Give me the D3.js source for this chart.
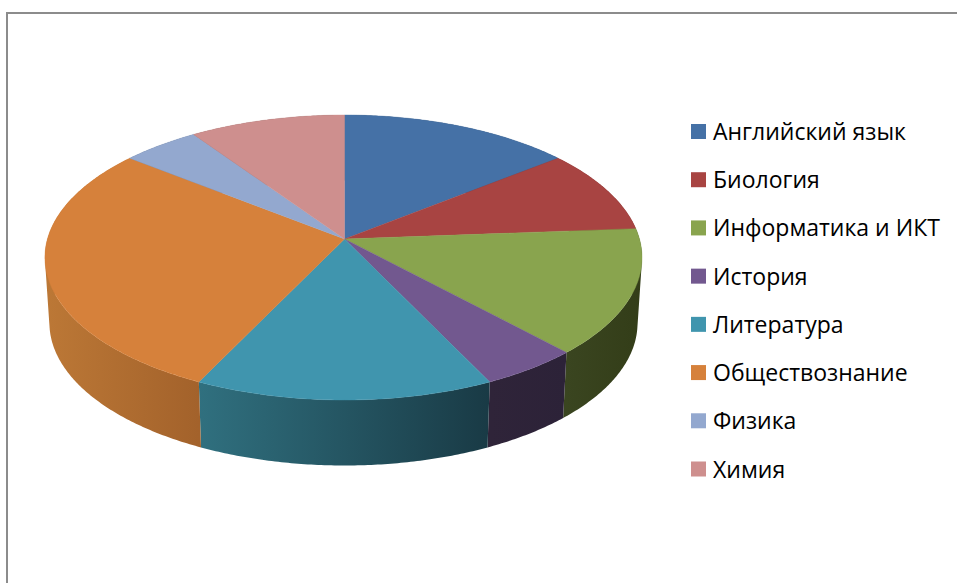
<!DOCTYPE html>
<html>
<head>
<meta charset="utf-8">
<script src="https://cdn.jsdelivr.net/npm/d3@7/dist/d3.min.js"></script>
<style>
  html, body { margin: 0; padding: 0; background: #fff; }
  svg { display: block; }
  .legend-label { font-family: "Open Sans", "Noto Sans", sans-serif; font-size: 23px; fill: #000; }
</style>
</head>
<body>
<div id="chart"></div>
<script>
// Data
var subjects = ["Английский язык", "Биология", "Информатика и ИКТ", "История", "Литература", "Обществознание", "Физика", "Химия"];
var counts = [3, 2, 3, 1, 3, 6, 1, 2];

// Slice colours, top face and the two ends of the side gradient
var topColors = ["#4571a6", "#a84442", "#89a44e", "#72588f", "#4095ae", "#d6813b", "#93a8cf", "#ce8f8e"];
var sideLeft = ["#2a4464", "#652928", "#3a4520", "#2f2439", "#30707f", "#bc7836", "#58657c", "#7c5655"];
var sideRight = ["#2a4464", "#652928", "#333d18", "#2c2238", "#193a45", "#a3622b", "#58657c", "#7c5655"];

var width = 957;
var height = 583;

var svg = d3.select("#chart")
    .append("svg")
    .attr("width", width)
    .attr("height", height);

// Grey frame, only the top and left edges are in the picture
svg.append("path")
    .attr("d", "M7,583V13H957")
    .attr("fill", "none")
    .attr("stroke", "#8c8c8c")
    .attr("stroke-width", 2);

// Pie geometry: a circle seen in perspective
var apexX = 344.5;
var apexY = 239;
var radiusX = 296;
var radiusY = 140.1;
var perspective = -0.1298;
var sidewaysLean = 0.0035;
var depth = 65.5;
var bottomScale = 0.985;

function rimPoint(angle, isBottom) {
    var u = Math.sin(angle);
    var v = -Math.cos(angle);
    var w = 1 + perspective * v;
    var scale = isBottom ? bottomScale : 1;
    return [
        apexX + scale * radiusX * u / (w * (1 + sidewaysLean * u)),
        apexY + radiusY * v / w + (isBottom ? depth : 0)
    ];
}

function rimPoints(a0, a1, isBottom) {
    var steps = Math.max(2, Math.ceil((a1 - a0) / 0.01));
    return d3.range(steps + 1).map(function(i) {
        return rimPoint(a0 + (a1 - a0) * i / steps, isBottom);
    });
}

var pie = d3.pie().sort(null).value(function(d) { return d; });
var slices = pie(counts);
var line = d3.line();
var defs = svg.append("defs");

// Side gradients run along x across each slice
slices.forEach(function(d, i) {
    var xs = rimPoints(d.startAngle, d.endAngle, false).map(function(p) { return p[0]; });
    var grad = defs.append("linearGradient")
        .attr("id", "side" + i)
        .attr("gradientUnits", "userSpaceOnUse")
        .attr("x1", d3.min(xs))
        .attr("x2", d3.max(xs))
        .attr("y1", 0)
        .attr("y2", 0);
    grad.append("stop").attr("offset", 0).attr("stop-color", sideLeft[i]);
    grad.append("stop").attr("offset", 1).attr("stop-color", sideRight[i]);
});

// Sides first, the top faces cover whatever lies behind.
// Each side is many small quads so the outline joins the two rims at the far left and right.
// All quads get the same winding, otherwise the overlaps near the far edges cancel out.
svg.append("g")
    .selectAll("path")
    .data(slices)
    .join("path")
    .attr("d", function(d) {
        var top = rimPoints(d.startAngle, d.endAngle, false);
        var bottom = rimPoints(d.startAngle, d.endAngle, true);
        return d3.range(top.length - 1).map(function(j) {
            var quad = [top[j], top[j + 1], bottom[j + 1], bottom[j]];
            if (d3.polygonArea(quad) < 0) quad.reverse();
            return line(quad) + "Z";
        }).join("");
    })
    .attr("fill", function(d, i) { return "url(#side" + i + ")"; });

svg.append("g")
    .selectAll("path")
    .data(slices)
    .join("path")
    .attr("d", function(d) {
        return line([[apexX, apexY]].concat(rimPoints(d.startAngle, d.endAngle, false))) + "Z";
    })
    .attr("fill", function(d, i) { return topColors[i]; })
    .attr("stroke", function(d, i) { return topColors[i]; })
    .attr("stroke-width", 0.4);

// Legend
var legendY = d3.scalePoint()
    .domain(subjects)
    .range([131.5, 469]);

var legend = svg.append("g")
    .selectAll("g")
    .data(subjects)
    .join("g")
    .attr("transform", function(d) { return "translate(691," + legendY(d) + ")"; });

legend.append("rect")
    .attr("y", -7.5)
    .attr("width", 15)
    .attr("height", 15)
    .attr("fill", function(d, i) { return topColors[i]; });

legend.append("text")
    .attr("class", "legend-label")
    .attr("x", 22)
    .attr("y", 8.5)
    .text(function(d) { return d; });
</script>
</body>
</html>
